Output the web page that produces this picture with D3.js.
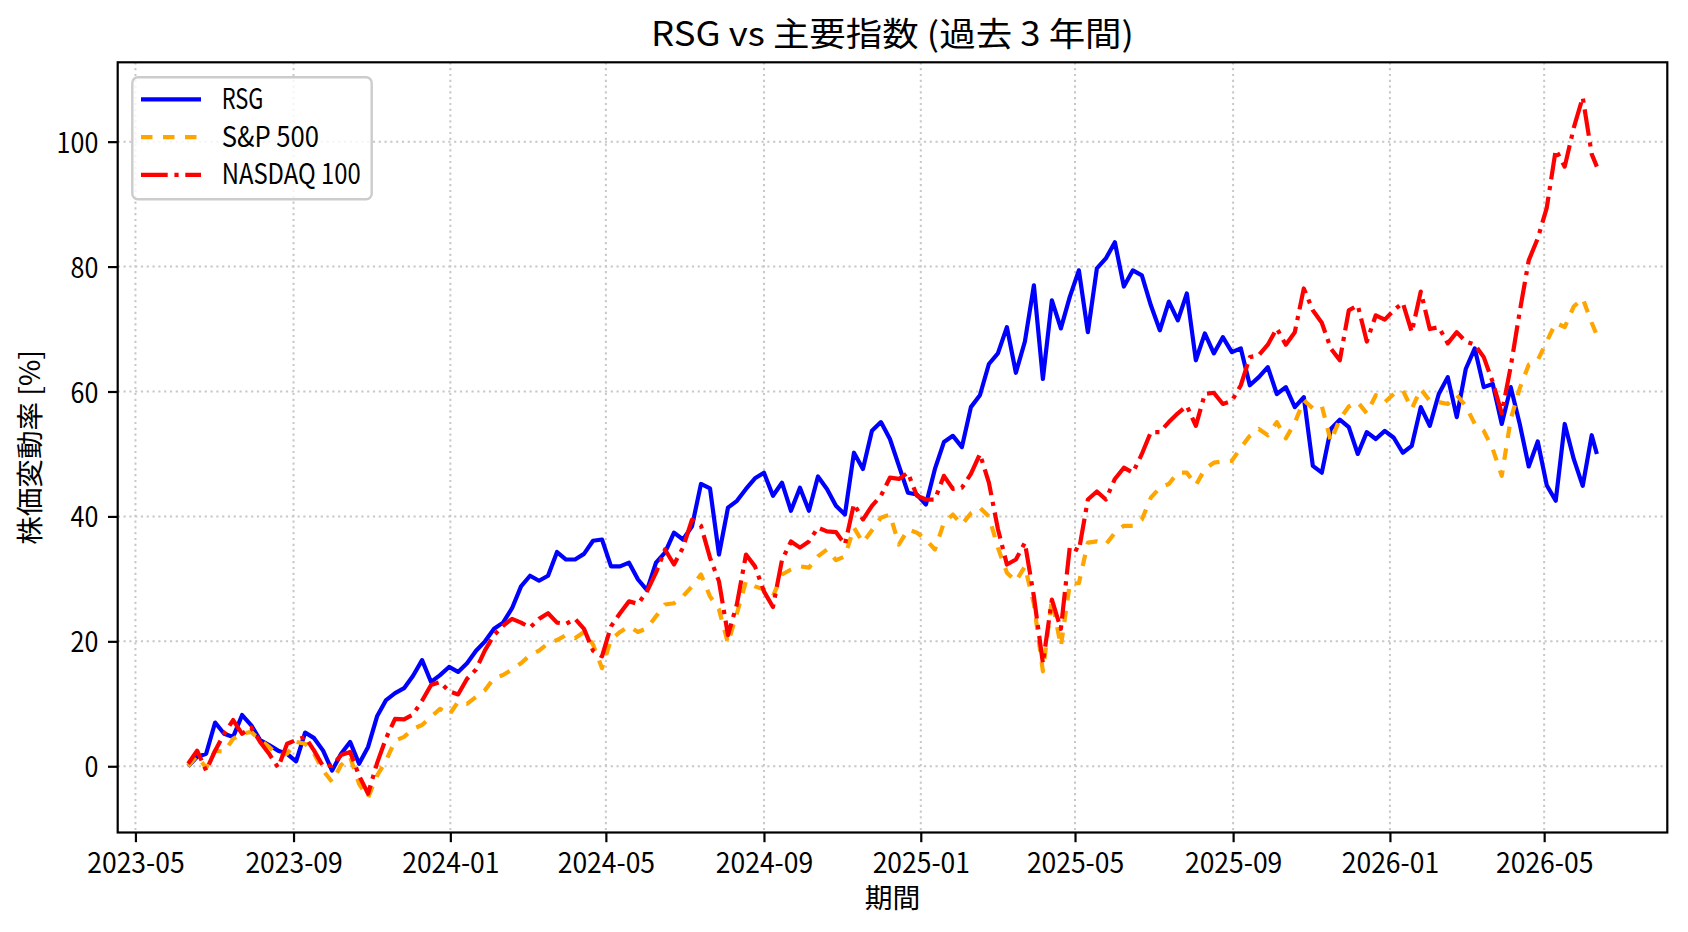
<!DOCTYPE html>
<html lang="ja">
<head>
<meta charset="UTF-8">
<title>RSG vs 主要指数 (過去 3 年間)</title>
<script src="https://d3js.org/d3.v7.min.js"></script>
<style>
  body { margin: 0; background: #fff; }
  svg text { font-family: "Noto Sans CJK JP", sans-serif; fill: #000; }
</style>
</head>
<body>
<svg id="chart" width="1688" height="932"></svg>
<script>
// weekly closes from startDate, plus the last trading day
const startDate = "2023-06-11";
const lastDate = "2026-06-11";

const rsgValues = [
  0, 1.5, 2, 7, 5.2, 4.7, 8.2, 6.6, 4.2, 3.4,
  2.5, 2.0, 0.8, 5.4, 4.5, 2.5, -0.7, 2.0, 3.9, 0.4,
  3.1, 8, 10.6, 11.7, 12.5, 14.5, 17, 13.5, 14.6, 15.9,
  15.1, 16.5, 18.5, 20, 22, 23, 25.3, 28.8, 30.5, 29.7,
  30.5, 34.3, 33.1, 33.1, 34, 36.1, 36.3, 32, 32, 32.6,
  29.9, 28.2, 32.6, 34.2, 37.4, 36.3, 38.4, 45.2, 44.5, 33.9,
  41.4, 42.5, 44.4, 46.1, 47, 43.3, 45.4, 40.9, 44.6, 40.9,
  46.4, 44.4, 41.7, 40.3, 50.2, 47.6, 53.7, 55.1, 52.4, 48.1,
  43.8, 43.5, 41.9, 47.6, 51.9, 52.9, 51.1, 57.5, 59.4, 64.4,
  66.1, 70.3, 63, 68, 77, 62, 74.6, 70.1, 75.2, 79.4,
  69.5, 79.7, 81.3, 83.9, 76.8, 79.4, 78.6, 73.8, 69.8, 74.4,
  71.4, 75.7, 65, 69.3, 66.1, 68.7, 66.3, 66.9, 61, 62.3,
  63.9, 59.6, 60.7, 57.5, 59.1, 48.1, 47, 54, 55.5, 54.3,
  50, 53.5, 52.4, 53.7, 52.6, 50.2, 51.3, 57.5, 54.5, 59.6,
  62.3, 55.9, 63.6, 66.9, 60.7, 61.2, 54.8, 60.7, 54.8, 48,
  52, 45, 42.5, 54.8, 49.2, 44.9, 53,
  50
];

const spxValues = [
  0, 1.7, -0.3, 2.5, 2.3, 4.4, 5.2, 5.5, 4.2, 3.1,
  1.7, 2.0, 3.9, 3.6, 2.0, -0.7, -2.5, 0.2, 1.5, -2.8,
  -5, -1.5, 0.9, 4.1, 4.7, 6.0, 6.6, 7.9, 9.2, 8.2,
  10.3, 10, 11.1, 12.2, 14.1, 14.6, 15.5, 16.5, 17.8, 18.5,
  19.7, 20.2, 21, 20.5, 21.5, 19.5, 15.7, 20.3, 21.5, 22.4,
  21.5, 22.1, 24, 25.9, 26.1, 27.2, 28.8, 30.7, 27.2, 25.1,
  19.7, 24.5, 29.6, 28.8, 28.3, 27.2, 30.7, 31.5, 32, 31.8,
  33.6, 34.7, 33, 33.6, 38.2, 35.8, 37.8, 39.8, 40.3, 35.5,
  37.9, 37.4, 36.3, 34.7, 39, 40.3, 38.7, 40.5, 41.4, 40,
  35, 31, 29.6, 32, 26, 15.2, 26.7, 19.2, 29.3, 29.3,
  35.8, 36, 35.5, 37.4, 38.5, 38.5, 39.5, 43, 44.6, 45.2,
  47, 47, 45, 47.6, 48.6, 48.8, 48.9, 51, 52.9, 54,
  53, 55.1, 52.5, 55, 58.6, 57.3, 57.7, 52, 55.6, 57.6,
  58.3, 56.5, 59.4, 58.3, 59.6, 60.2, 57.2, 60.4, 58.5, 58.3,
  58, 59.4, 57.7, 54.8, 53.7, 50.8, 46.5, 55.6, 60.5, 64.3,
  65, 68, 71, 70.3, 73.6, 74.9, 71,
  69
];

const ndxValues = [
  0.4, 2.5, -0.7, 2.5, 5.2, 7.4, 5.2, 6.2, 3.9, 2.0,
  -0.2, 3.6, 4.2, 4.7, 2.5, 0, 0.1, 1.8, 2.3, -1.5,
  -4.4, 0.5, 4.5, 7.6, 7.5, 8.3, 10.5, 13, 13.5, 12,
  11.5, 14, 15.5, 18.6, 21, 22.5, 23.6, 23, 22.2, 23.6,
  24.5, 23, 22.8, 23.6, 22, 18.5, 17.6, 22.4, 24.5, 26.4,
  26, 28, 31, 34.7, 32.3, 35, 39.5, 38.5, 33.4, 29.6,
  21, 26, 33.9, 32, 28, 25.5, 33, 36, 35, 36,
  38.2, 37.6, 37.5, 35.5, 42, 39.5, 41.7, 43.3, 46.2, 46,
  47, 43.3, 42.7, 42.7, 46.5, 44.4, 44.6, 46.8, 50, 45.4,
  38, 32.3, 33.1, 35.8, 27.2, 16.5, 26.7, 22, 35.2, 34.5,
  42.7, 44, 42.7, 46, 47.8, 47, 50, 53.5, 53.5, 55.1,
  56.5, 57.7, 54.5, 59.6, 59.8, 58, 58.5, 61, 65.5, 65.8,
  67.5, 70.1, 67.5, 69.5, 76.5, 73, 71, 66.9, 65, 73,
  73.8, 68, 72.2, 71.5, 73, 74.2, 69.5, 76, 70, 70.3,
  67.7, 69.5, 68, 67.5, 65.5, 61.5, 56.5, 64, 72.8, 81,
  84.5, 89.4, 98.7, 96, 102.2, 107.1, 98,
  96
];

const seriesNames = ["RSG", "S&P 500", "NASDAQ 100"];
const seriesColors = ["#0000ff", "#ffa500", "#ff0000"];
const seriesDashes = [null, "11.5,10.5", "26.7,6.7,4.2,6.7"];
const yTickValues = [0, 20, 40, 60, 80, 100];

const titleText = "RSG vs 主要指数 (過去 3 年間)";
const xLabelText = "期間";
const yLabelText = "株価変動率 [%]";

// ---- layout ----
const svg = d3.select("#chart");
const margin = { top: 62.3, right: 20.7, bottom: 99.5, left: 117.7 };
const width = 1688 - margin.left - margin.right;
const height = 932 - margin.top - margin.bottom;
const fs = 27.8;      // 10pt
const fsTitle = 33.3; // 12pt
const tickLen = 9.7;

// Latin glyphs half width, CJK full width (like a Japanese gothic font)
function halfCount(s) {
  let n = 0;
  for (const ch of s) n += ch.codePointAt(0) > 0x2E7F ? 2 : 1;
  return n;
}
function fitText(sel, size) {
  sel.each(function () {
    const t = this.textContent;
    d3.select(this)
      .attr("textLength", halfCount(t) * 0.5 * size)
      .attr("lengthAdjust", "spacingAndGlyphs");
  });
}

const parse = d3.timeParse("%Y-%m-%d");
const start = parse(startDate);
const dates = rsgValues.slice(0, -1).map((_, i) => d3.timeDay.offset(start, i * 7));
dates.push(parse(lastDate));

const series = [rsgValues, spxValues, ndxValues].map((vals, k) => ({
  name: seriesNames[k],
  color: seriesColors[k],
  dash: seriesDashes[k],
  points: vals.map((v, i) => ({ date: dates[i], v: v }))
}));

const t0 = dates[0], t1 = dates[dates.length - 1];
const span = t1 - t0;
const x = d3.scaleTime()
  .domain([new Date(+t0 - span * 0.05), new Date(+t1 + span * 0.05)])
  .range([0, width]);

const allV = rsgValues.concat(spxValues, ndxValues);
const vMin = d3.min(allV), vMax = d3.max(allV);
const vPad = (vMax - vMin) * 0.05;
const y = d3.scaleLinear()
  .domain([vMin - vPad, vMax + vPad])
  .range([height, 0]);

const g = svg.append("g")
  .attr("transform", `translate(${margin.left},${margin.top})`);

const xTicks = x.ticks(d3.timeMonth.every(4));

// grid
g.append("g").selectAll("line").data(xTicks).join("line")
  .attr("x1", d => x(d)).attr("x2", d => x(d))
  .attr("y1", 0).attr("y2", height)
  .style("stroke", "#c8c8c8").style("stroke-width", 2)
  .style("stroke-dasharray", "2.2,3.6");
g.append("g").selectAll("line").data(yTickValues).join("line")
  .attr("x1", 0).attr("x2", width)
  .attr("y1", d => y(d)).attr("y2", d => y(d))
  .style("stroke", "#c8c8c8").style("stroke-width", 2)
  .style("stroke-dasharray", "2.2,3.6");

// lines
const lineGen = d3.line()
  .x(d => x(d.date))
  .y(d => y(d.v));

series.forEach(s => {
  g.append("path")
    .datum(s.points)
    .attr("d", lineGen)
    .style("fill", "none")
    .style("stroke", s.color)
    .style("stroke-width", 4.2)
    .style("stroke-linejoin", "round")
    .style("stroke-dasharray", s.dash);
});

// axes
const xAxis = g.append("g")
  .attr("transform", `translate(0,${height})`)
  .call(d3.axisBottom(x).tickValues(xTicks)
    .tickFormat(d3.timeFormat("%Y-%m"))
    .tickSize(tickLen).tickPadding(tickLen));
const yAxis = g.append("g")
  .call(d3.axisLeft(y).tickValues(yTickValues)
    .tickSize(tickLen).tickPadding(tickLen));

[xAxis, yAxis].forEach(ax => {
  ax.select(".domain").remove();
  ax.selectAll(".tick line").style("stroke", "#000").style("stroke-width", 2.2);
  ax.selectAll(".tick text")
    .style("font-size", fs + "px")
    .style("font-family", '"Noto Sans CJK JP", sans-serif')
    .style("fill", "#000")
    .call(fitText, fs);
});
xAxis.selectAll(".tick text").attr("y", 40.8).attr("dy", null);
yAxis.selectAll(".tick text").attr("dy", "0.38em");

// spine
g.append("rect")
  .attr("width", width).attr("height", height)
  .style("fill", "none").style("stroke", "#000").style("stroke-width", 2.2);

// legend
const legend = g.append("g").attr("transform", "translate(14.6,15)");
legend.append("rect")
  .attr("width", 239.4).attr("height", 122)
  .attr("rx", 5.6)
  .style("fill", "#fff").style("fill-opacity", 0.8)
  .style("stroke", "#cccccc").style("stroke-width", 2.4);
series.forEach((s, k) => {
  const row = legend.append("g").attr("transform", `translate(0,${22 + k * 37.8})`);
  row.append("line")
    .attr("x1", 8.7).attr("x2", 68.7)
    .style("stroke", s.color).style("stroke-width", 4.2)
    .style("stroke-dasharray", s.dash);
  row.append("text")
    .attr("x", 89.4).attr("y", 9.5)
    .style("font-size", fs + "px")
    .text(s.name)
    .call(fitText, fs);
});

// title and labels
svg.append("text")
  .attr("x", margin.left + width / 2).attr("y", 45.6)
  .attr("text-anchor", "middle")
  .style("font-size", fsTitle + "px")
  .text(titleText)
  .call(fitText, fsTitle);

svg.append("text")
  .attr("x", margin.left + width / 2).attr("y", 907.5)
  .attr("text-anchor", "middle")
  .style("font-size", fs + "px")
  .text(xLabelText)
  .call(fitText, fs);

svg.append("text")
  .attr("transform", `translate(40,${margin.top + height / 2}) rotate(-90)`)
  .attr("text-anchor", "middle")
  .style("font-size", fs + "px")
  .text(yLabelText)
  .call(fitText, fs);
</script>
</body>
</html>
